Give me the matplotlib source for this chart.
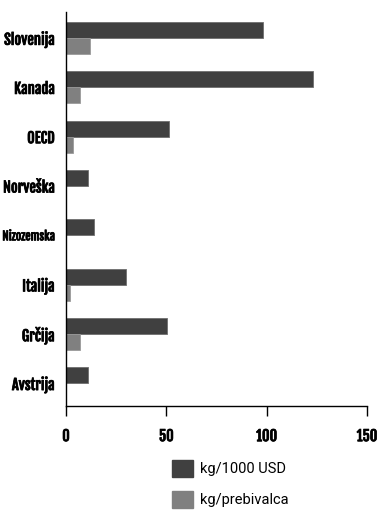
import matplotlib.pyplot as plt
import matplotlib.patheffects as pe
from matplotlib.patches import Patch
import numpy as np

countries = ["Slovenija", "Kanada", "OECD", "Norveška", "Nizozemska", "Italija", "Grčija", "Avstrija"]
per_1000_usd = [98, 123, 51.5, 11, 14, 30, 50.5, 11]
per_capita = [12, 7, 3.3, 0, 0, 2, 7, 0]
series_names = ["kg/1000 USD", "kg/prebivalca"]
xticks = [0, 50, 100, 150]

dark = "#404040"
light = "#808080"
label_font = ["Fjalla One", "DejaVu Sans"]
legend_font = ["Roboto", "DejaVu Sans"]
heavy = [pe.withStroke(linewidth=0.5, foreground="black")]

fig = plt.figure(figsize=(3.79, 5.14), dpi=100)
ax = fig.add_axes([66 / 379, 108 / 514, 301 / 379, 394 / 514])

y = np.arange(len(countries))
h = 0.325
ax.barh(y - h / 2, per_1000_usd, height=h, color=dark, edgecolor="#6e6e6e", linewidth=0.6)
ax.barh(y + h / 2, per_capita, height=h, color=light, edgecolor="#9a9a9a", linewidth=0.6)

ax.set_xlim(0, 150)
ax.set_ylim(7.46, -0.53)
ax.set_xticks(xticks)
ax.set_xticklabels([str(t) for t in xticks], family=label_font, fontsize=10.5)
ax.set_yticks(y)
ax.set_yticklabels(countries, family=label_font, fontsize=10.5)
# the long name is squeezed to fit the margin
ax.get_yticklabels()[4].set_fontsize(8.6)
for lbl in ax.get_xticklabels() + ax.get_yticklabels():
    lbl.set_path_effects(heavy)

ax.tick_params(axis="y", length=0, pad=8)
ax.tick_params(axis="x", length=7, width=1, pad=9, direction="out")
for side in ("top", "right"):
    ax.spines[side].set_visible(False)
for side in ("left", "bottom"):
    ax.spines[side].set_linewidth(1)

handles = [Patch(facecolor=dark, edgecolor=dark), Patch(facecolor=light, edgecolor=light)]
fig.legend(handles, series_names, loc="upper left", bbox_to_anchor=(166 / 379, 1 - 454 / 514),
           frameon=False, handlelength=1.45, handleheight=1.45, labelspacing=0.95,
           handletextpad=0.5, prop={"family": legend_font, "size": 10.5}, borderaxespad=0)

fig.savefig("out.png", dpi=100)
